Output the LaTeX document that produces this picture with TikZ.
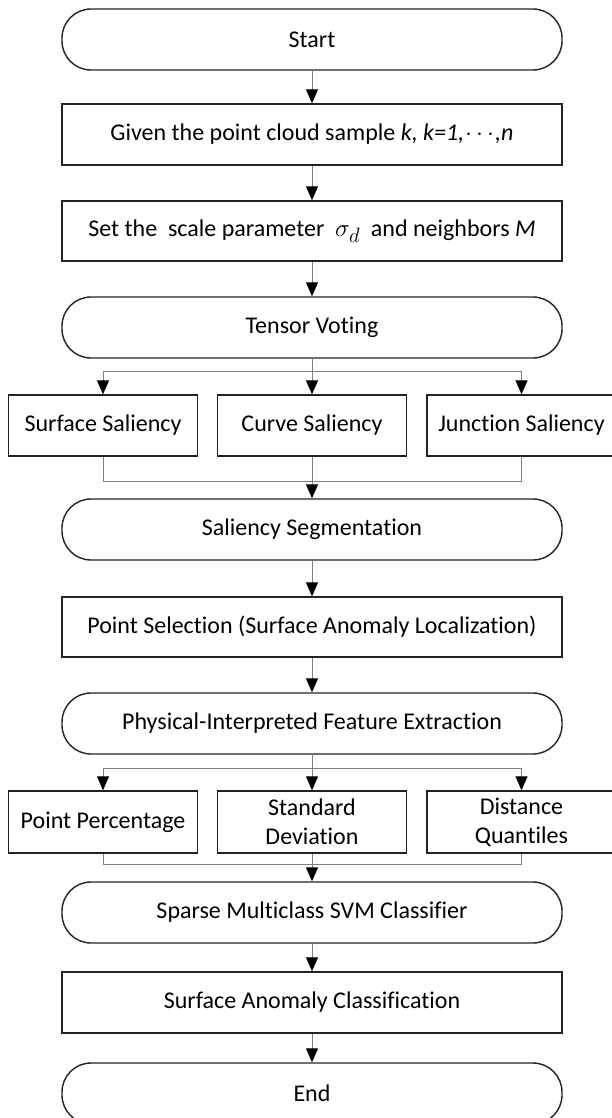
\documentclass[tikz,border=0pt]{standalone}
\usepackage{fontspec}
\setmainfont{Carlito}[Ligatures=NoCommon]
\usetikzlibrary{arrows.meta}
\definecolor{linegray}{HTML}{808080}
\definecolor{boxdraw}{HTML}{222222}
\tikzset{
  box/.style={draw=boxdraw, line width=1.4pt, rectangle, minimum width=500pt, minimum height=61pt, inner sep=0pt, align=center, font=\fontsize{24}{29}\selectfont},
  term/.style={box, rounded corners=29pt},
  smallbox/.style={box, minimum width=189pt, minimum height=61pt},
  conn/.style={draw=linegray, line width=1pt},
  arr/.style={conn, -{Triangle[length=14pt,width=12pt,color=black]}}
}
\begin{document}
\begin{tikzpicture}[x=1pt,y=1pt]
\useasboundingbox (0,0) rectangle (612,-1118);
\node[term] (start) at (312,-39.5) {Start};
\node[box] (given) at (312,-134.5) {Given the point cloud sample \textit{k, k=1,}\kern1pt$\cdots$\kern1pt\textit{,n}};
\node[box, minimum height=60pt] (set) at (312,-231) {Set the\ \ scale parameter\ \ {\fontsize{29}{29}\selectfont$\sigma_d$}\ \ and neighbors \textit{M}};
\node[term] (tv) at (312,-327.5) {Tensor Voting};
\node[smallbox] (ss) at (103,-425.5) {Surface Saliency};
\node[smallbox] (cs) at (312,-425.5) {Curve Saliency};
\node[smallbox] (js) at (521.5,-425.5) {Junction Saliency};
\node[term] (seg) at (312,-529.5) {Saliency Segmentation};
\node[box, minimum height=60pt] (psel) at (312,-627) {Point Selection (Surface Anomaly Localization)};
\node[term] (pfe) at (312,-723.5) {Physical-Interpreted Feature Extraction};
\node[smallbox, minimum height=62pt] (pp) at (103,-822) {Point Percentage};
\node[smallbox, minimum height=62pt] (sd) at (312,-822) {Standard\\Deviation};
\node[smallbox, minimum height=62pt] (dq) at (521.5,-822) {Distance\\Quantiles};
\node[term] (svm) at (312,-912.5) {Sparse Multiclass SVM Classifier};
\node[box] (sac) at (312,-1002.5) {Surface Anomaly Classification};
\node[term] (end) at (312,-1093.5) {End};

\coordinate (b1) at (312,-371);
\coordinate (m1) at (312,-481);
\coordinate (b2) at (312,-768);
\coordinate (m2) at (312,-864);

\draw[arr] (start) -- (given);
\draw[arr] (given) -- (set);
\draw[arr] (set) -- (tv);

\draw[arr] (tv) -- (cs);
\draw[conn] (b1 -| ss.north) -- (b1 -| js.north);
\draw[arr] (b1 -| ss.north) -- (ss.north);
\draw[arr] (b1 -| js.north) -- (js.north);
\draw[conn] (ss.south) |- (m1);
\draw[conn] (js.south) |- (m1);
\draw[arr] (cs) -- (seg);

\draw[arr] (seg) -- (psel);
\draw[arr] (psel) -- (pfe);

\draw[arr] (pfe) -- (sd);
\draw[conn] (b2 -| pp.north) -- (b2 -| dq.north);
\draw[arr] (b2 -| pp.north) -- (pp.north);
\draw[arr] (b2 -| dq.north) -- (dq.north);
\draw[conn] (pp.south) |- (m2);
\draw[conn] (dq.south) |- (m2);
\draw[arr] (sd) -- (svm);

\draw[arr] (svm) -- (sac);
\draw[arr] (sac) -- (end);
\end{tikzpicture}
\end{document}
